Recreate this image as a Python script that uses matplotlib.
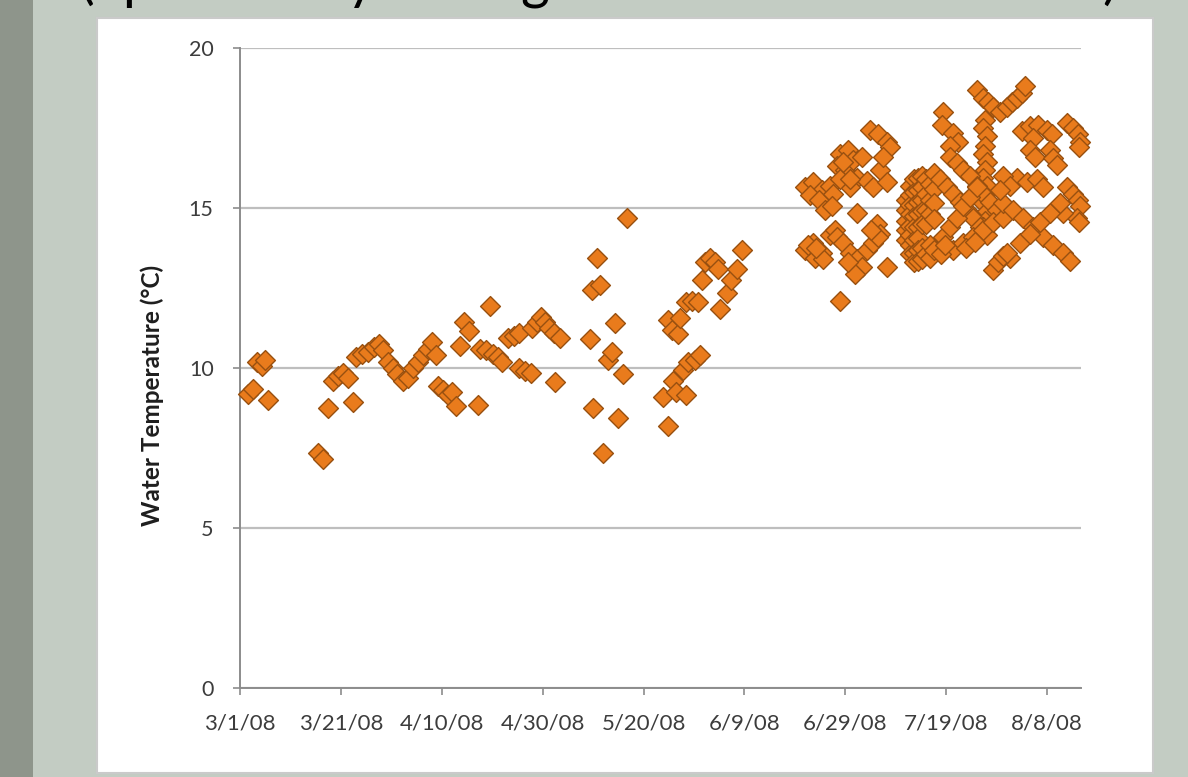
import matplotlib
matplotlib.use("Agg")
import matplotlib.pyplot as plt
from matplotlib.patches import Rectangle
import numpy as np
import pandas as pd

# ---------------------------------------------------------------------------
# Logger readings: days since 3/1/08 and water temperature (deg C)
# ---------------------------------------------------------------------------
START = pd.Timestamp("2008-03-01")

spring_days = [
    1.6, 2.6, 3.4, 4.4, 5.0, 5.5,
    15.5, 16.5, 17.4, 18.4, 19.4, 20.4, 21.4, 22.4,
    23.0, 24.2, 25.4, 26.6, 27.6, 28.3, 29.3, 30.3, 31.1, 32.3, 33.3, 34.3,
    35.3, 36.3, 37.3, 38.1, 38.8, 39.2, 40.2, 41.2, 42.0, 42.8, 43.6, 44.4,
    45.4, 47.2, 47.6, 48.8, 49.6, 50.1, 51.1, 51.9, 53.1, 54.3, 55.3, 55.3,
    56.5, 57.7, 57.9, 58.9, 59.7, 60.5, 61.2, 62.2, 62.4, 63.4,
    69.4, 69.8, 70.8, 71.4, 70.0, 72.0, 72.9, 73.7, 74.3, 74.9, 75.9, 76.7,
]
spring_temp = [
    9.2, 9.35, 10.2, 10.05, 10.25, 9.0,
    7.35, 7.15, 8.75, 9.6, 9.75, 9.85, 9.7, 8.95,
    10.35, 10.45, 10.5, 10.65, 10.75, 10.55, 10.2, 10.0, 9.8, 9.6, 9.7, 10.0,
    10.2, 10.4, 10.6, 10.8, 10.4, 9.45, 9.3, 9.15, 9.25, 8.8, 10.7, 11.45,
    11.15, 8.85, 10.6, 10.55, 11.95, 10.45, 10.35, 10.2, 10.95, 11.0, 11.1, 10.0,
    9.9, 9.85, 11.25, 11.45, 11.6, 11.45, 11.25, 11.1, 9.55, 10.95,
    10.9, 12.45, 13.45, 12.6, 8.75, 7.35, 10.25, 10.5, 11.4, 8.45, 9.8, 14.7,
]

june_days = [
    83.8, 84.8, 84.8, 85.6, 85.8, 86.4, 86.8, 87.2, 87.8, 88.4, 88.4, 88.8,
    89.6, 90.2, 90.8, 91.2, 91.6, 92.2, 93.2, 94.2, 94.7, 95.1, 96.5, 97.3,
    98.5, 99.5,
]
june_temp = [
    9.1, 8.2, 11.5, 11.2, 9.6, 9.25, 11.05, 11.55, 9.95, 9.15, 12.05, 10.2,
    12.1, 10.25, 12.05, 10.4, 12.75, 13.3, 13.45, 13.3, 13.1, 11.85, 12.35, 12.75,
    13.1, 13.7,
]

early_summer_days = [
    112.0, 113.6, 115.4, 117.0, 112.9, 114.7, 117.5, 116.0, 117.4,
    112.0, 113.6, 115.4, 117.0, 117.9, 113.9, 115.6,
    118.9, 120.5, 118.3, 119.9, 121.5, 123.3, 122.3, 124.3, 125.5, 126.9, 120.9, 118.9,
    124.9, 126.5, 128.2, 128.8, 127.5, 128.2, 122.3, 126.3, 126.9,
    118.3, 119.5, 120.9, 122.3, 123.3, 121.9, 124.3, 125.5, 126.5, 120.5, 128.2, 118.9,
    112.6, 114.2, 119.6, 121.0, 125.0,
]
early_summer_temp = [
    15.65, 15.8, 15.55, 15.7, 15.4, 15.25, 15.45, 14.95, 15.05,
    13.7, 13.9, 13.6, 14.15, 14.3, 13.45, 13.4,
    16.7, 16.8, 16.3, 16.2, 16.5, 16.6, 15.95, 15.85, 15.65, 16.2, 15.65, 15.9,
    17.45, 17.3, 17.05, 16.9, 16.6, 15.8, 14.85, 14.5, 14.2,
    14.1, 13.9, 13.6, 13.4, 13.15, 12.95, 13.7, 13.9, 14.1, 13.3, 13.15, 12.1,
    13.85, 13.75, 16.45, 15.9, 14.3,
]

late_summer_days = [
    # mid-July block
    132.0, 132.0, 132.0, 132.0, 132.0,
    132.8, 132.8, 132.8, 132.8, 132.8, 132.8, 132.8, 132.8,
    133.6, 133.6, 133.6, 133.6, 133.6, 133.6, 133.6, 133.6,
    134.4, 134.4, 134.4, 134.4, 134.4, 134.4, 134.4, 134.4,
    135.2, 135.2, 135.2, 135.2, 135.2, 135.2, 135.2,
    136.0, 136.0, 136.0, 136.0, 136.0,
    136.8, 136.8, 136.8, 136.8, 136.8,
    137.6, 137.6, 137.6, 137.6, 137.6,
    # late July
    139.3, 139.1, 141.3, 142.3, 140.7,
    146.1, 147.3, 148.3, 149.3, 150.6, 152.0, 153.0, 154.0, 155.0, 155.6,
    147.7, 147.3, 148.1, 147.7, 147.3, 148.1, 147.7, 147.3, 148.1, 147.7,
    147.3, 148.1, 147.7, 147.3,
    140.7, 142.1, 143.3, 144.7, 146.1, 147.3, 148.7, 150.0,
    138.7, 140.1, 141.3, 142.7, 144.1, 145.3, 146.7, 148.1,
    139.3, 140.7, 142.1, 143.3, 144.7, 146.1,
    141.3, 143.3, 145.3, 147.3, 149.3, 151.2,
    138.9, 139.8, 144.0, 145.6,
    # August
    155.0, 156.6, 158.2, 160.0, 161.0, 157.2,
    163.9, 165.1, 166.1, 166.5, 166.3,
    156.6, 157.6, 160.6, 161.1, 161.9,
    154.0, 156.0, 158.0, 159.2,
    163.9, 165.1, 166.1, 166.5, 165.9, 166.4, 163.1,
    151.2, 153.2, 155.2, 157.2, 159.2, 161.1, 163.1, 164.5,
    152.6, 154.6, 156.6, 158.6, 160.6, 162.5,
    149.3, 150.2, 151.2, 152.0,
    151.2, 152.6, 150.6,
]
late_summer_temp = [
    15.25, 14.95, 14.6, 14.3, 14.0,
    15.7, 15.4, 15.1, 14.8, 14.45, 14.15, 13.85, 13.55,
    15.9, 15.5, 15.1, 14.75, 14.4, 14.0, 13.6, 13.3,
    15.95, 15.55, 15.2, 14.8, 14.4, 14.05, 13.7, 13.35,
    16.0, 15.65, 15.25, 14.9, 14.5, 13.75, 13.4,
    15.9, 15.45, 14.95, 14.5, 13.55,
    15.75, 15.25, 14.8, 13.85, 13.45,
    16.1, 15.6, 15.15, 14.65, 13.7,
    18.0, 17.6, 17.35, 17.05, 16.95,
    18.7, 18.45, 18.3, 18.15, 18.0, 18.15, 18.3, 18.45, 18.6, 18.8,
    17.75, 17.5, 17.25, 16.95, 16.7, 16.45, 16.2, 15.95, 15.7, 15.4,
    15.15, 14.9, 14.6, 14.4,
    16.6, 16.4, 16.2, 16.0, 15.7, 15.45, 15.2, 14.95,
    15.9, 15.65, 15.45, 15.2, 14.95, 14.7, 14.4, 14.15,
    14.1, 14.4, 14.7, 15.05, 15.35, 15.65,
    13.7, 13.9, 14.1, 14.3, 14.55, 14.7,
    13.55, 13.85, 13.75, 13.95,
    17.4, 17.55, 17.6, 17.45, 17.3, 17.2,
    17.65, 17.5, 17.3, 17.05, 16.9,
    16.8, 16.6, 16.8, 16.55, 16.35,
    15.95, 15.8, 15.9, 15.65,
    15.65, 15.45, 15.25, 15.05, 14.7, 14.55, 14.85,
    15.15, 14.95, 14.7, 14.4, 14.1, 13.85, 13.6, 13.35,
    13.45, 13.9, 14.2, 14.55, 14.85, 15.15,
    13.05, 13.3, 13.5, 13.6,
    16.0, 15.7, 15.55,
]

tick_days = [0, 20, 40, 60, 80, 100, 120, 140, 160]
y_ticks = [0, 5, 10, 15, 20]
axis_end_day = 166.7

# ---------------------------------------------------------------------------
days = np.array(spring_days + june_days + early_summer_days + late_summer_days)
temps = np.array(spring_temp + june_temp + early_summer_temp + late_summer_temp)
when = (START + pd.to_timedelta(days, unit="D")).to_numpy()

tick_dates = START + pd.to_timedelta(tick_days, unit="D")
tick_labels = [f"{d.month}/{d.day}/{d:%y}" for d in tick_dates]

W, H = 1188, 777
fig = plt.figure(figsize=(W / 100, H / 100), dpi=100, facecolor="#C3CCC3")


def fx(px):
    return px / W


def fy(py):
    return 1 - py / H


# slide background pieces and white chart panel
fig.patches.append(Rectangle((0, 0), fx(33), 1, transform=fig.transFigure,
                             facecolor="#8E958B", edgecolor="none", zorder=-2))
fig.patches.append(Rectangle((fx(97), fy(773)), fx(1153) - fx(97), fy(18) - fy(773),
                             transform=fig.transFigure, facecolor="white",
                             edgecolor="#CACACA", lw=1.5, zorder=-1))

# slide title running off the top of the slide
for ch, px in [("(", 80), ("p", 122), ("y", 346), ("g", 520), (")", 1102)]:
    fig.text(fx(px), 1 + 2 / H, ch, fontsize=40, color="black",
             family="Lato", ha="left", va="baseline")

ax = fig.add_axes([fx(240), fy(688), fx(1081) - fx(240), fy(48) - fy(688)])
ax.set_zorder(2)
ax.set_facecolor("white")

ax.scatter(when, temps, marker="D", s=102, facecolor="#E97B1C",
           edgecolor="#985010", linewidth=1.0, zorder=3, clip_on=False)

ax.set_ylim(0, 20)
ax.set_yticks(y_ticks)
ax.set_xlim(START.to_numpy(), (START + pd.Timedelta(days=axis_end_day)).to_numpy())
ax.set_xticks(tick_dates.to_numpy())
ax.set_xticklabels(tick_labels)

ax.yaxis.grid(True, color="#BEBEBE", lw=1.6)
ax.set_axisbelow(True)
for side in ("top", "right"):
    ax.spines[side].set_visible(False)
for side in ("left", "bottom"):
    ax.spines[side].set_color("#8C8C8C")
    ax.spines[side].set_linewidth(1.4)

ax.tick_params(axis="y", direction="out", length=5, width=1.2, color="#8C8C8C",
               pad=14, labelsize=15.5, labelcolor="#3C3C3C")
ax.tick_params(axis="x", direction="out", length=5, width=1.2, color="#8C8C8C",
               pad=13, labelsize=16, labelcolor="#3C3C3C")
for lab in ax.get_xticklabels() + ax.get_yticklabels():
    lab.set_family("Lato")

fig.text(fx(152), fy(395), "Water Temperature (°C)", rotation=90, ha="center",
         va="center", fontsize=17.5, fontweight="bold", family="Lato", color="#1E1E1E")

fig.savefig("out.png", dpi=100, facecolor=fig.get_facecolor())
